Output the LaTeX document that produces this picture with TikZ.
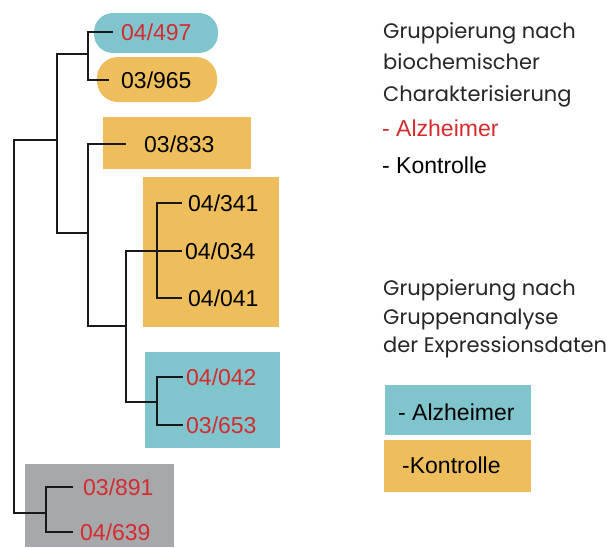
\documentclass[tikz,border=0pt]{standalone}
\usepackage{fontspec}
\setmainfont{Liberation Sans}
\newfontfamily\headfont{Poppins}
\usetikzlibrary{positioning}

\definecolor{alzteal}{HTML}{80C5CD}
\definecolor{kontorange}{HTML}{EEBE5C}
\definecolor{restgray}{HTML}{A7A8AB}
\definecolor{alzred}{HTML}{D52B2E}

\tikzset{
  leaf/.style={inner sep=0pt, font=\fontsize{23}{23}\selectfont},
  branch/.style={line width=2pt, black!90},
  headtext/.style={anchor=base west, inner sep=0pt, font=\headfont\fontsize{21}{21}\selectfont, black!85},
  legtext/.style={anchor=base west, inner sep=0pt, font=\fontsize{23}{23}\selectfont}
}

\begin{document}
\begin{tikzpicture}[x=1pt, y=-1pt]
	\useasboundingbox (0,0) rectangle (608,547);

	% group boxes
	\fill[alzteal, rounded corners=19pt] (94,13) rectangle (218,53);
	\fill[kontorange, rounded corners=21pt] (97,57) rectangle (217,102);
	\fill[kontorange] (103,117) rectangle (251,169);
	\fill[kontorange] (143,177) rectangle (279,327);
	\fill[alzteal]    (145,352) rectangle (280,448);
	\fill[restgray]   (25,464)  rectangle (174,547);

	% inner nodes of the tree
	\coordinate (root) at (14,300);
	\coordinate (n3) at (57,140);
	\coordinate (n1) at (88,54);
	\coordinate (n2) at (88,233);
	\coordinate (n4) at (126,326);
	\coordinate (n5) at (157,251);
	\coordinate (n6) at (157,402);
	\coordinate (n7) at (46,513);

	% leaf tips
	\coordinate (t497) at (113,32);
	\coordinate (t965) at (109,80);
	\coordinate (t833) at (126,144);
	\coordinate (t341) at (182,203);
	\coordinate (t034) at (182,251);
	\coordinate (t041) at (182,298);
	\coordinate (t042) at (183,377);
	\coordinate (t653) at (183,425);
	\coordinate (t891) at (73,487);
	\coordinate (t639) at (73,532);

	% leaves
	\node[leaf, alzred, right=8pt of t497]  (l497) {04/497};
	\node[leaf, right=12pt of t965]         (l965) {03/965};
	\node[leaf, right=18pt of t833]         (l833) {03/833};
	\node[leaf, right=6pt of t341]          (l341) {04/341};
	\node[leaf, right=3pt of t034]          (l034) {04/034};
	\node[leaf, right=6pt of t041]          (l041) {04/041};
	\node[leaf, alzred, right=3pt of t042]  (l042) {04/042};
	\node[leaf, alzred, right=3pt of t653]  (l653) {03/653};
	\node[leaf, alzred, right=10pt of t891] (l891) {03/891};
	\node[leaf, alzred, right=7pt of t639]  (l639) {04/639};

	% branches
	\draw[branch] (root) |- (n3);
	\draw[branch] (root) |- (n7);
	\draw[branch] (n3) |- (n1);
	\draw[branch] (n3) |- (n2);
	\draw[branch] (n1) |- (t497);
	\draw[branch] (n1) |- (t965);
	\draw[branch] (n2) |- (t833);
	\draw[branch] (n2) |- (n4);
	\draw[branch] (n4) |- (n5);
	\draw[branch] (n4) |- (n6);
	\draw[branch] (n5) |- (t341);
	\draw[branch] (n5) -- (t034);
	\draw[branch] (n5) |- (t041);
	\draw[branch] (n6) |- (t042);
	\draw[branch] (n6) |- (t653);
	\draw[branch] (n7) |- (t891);
	\draw[branch] (n7) |- (t639);

	% legend: biochemical grouping
	\node[headtext] (h1) at (383,38)  {Gruppierung nach};
	\node[headtext] (h2) at (383,69)  {biochemischer};
	\node[headtext] (h3) at (383,101) {Charakterisierung};
	\node[legtext, alzred] (a1) at (382,136) {- Alzheimer};
	\node[legtext]         (k1) at (382,173) {- Kontrolle};

	% legend: cluster analysis
	\node[headtext] (g1) at (383,295) {Gruppierung nach};
	\node[headtext] (g2) at (383,324) {Gruppenanalyse};
	\node[headtext] (g3) at (383,352) {der Expressionsdaten};
	\fill[alzteal]    (385,385) rectangle (531,435);
	\fill[kontorange] (384,440) rectangle (531,492);
	\node[legtext] (a2) at (398,420) {- Alzheimer};
	\node[legtext] (k2) at (402,473) {-Kontrolle};
\end{tikzpicture}
\end{document}
